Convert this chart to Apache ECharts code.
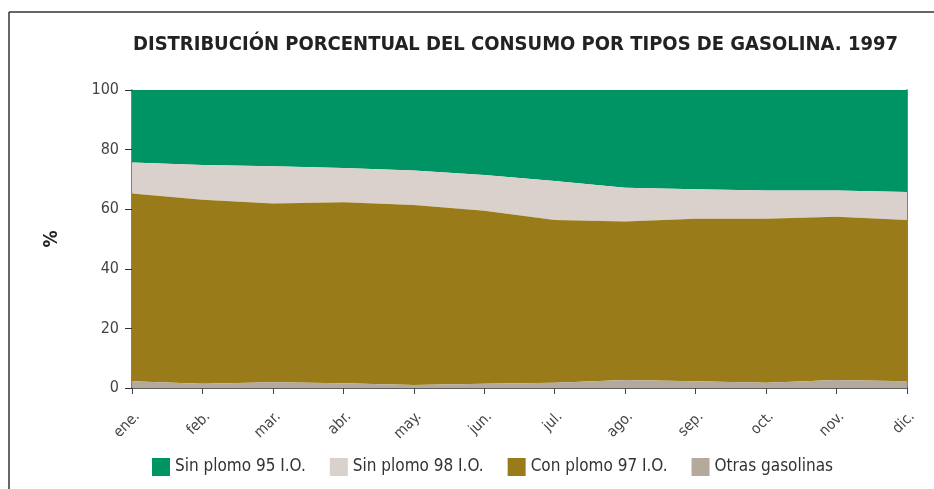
<!DOCTYPE html>
<html>
<head>
<meta charset="utf-8">
<script src="https://cdn.jsdelivr.net/npm/echarts@6/dist/echarts.min.js"></script>
<style>
html,body{margin:0;padding:0;background:#fff;}
#c{width:934px;height:489px;}
</style>
</head>
<body>
<div id="c"></div>
<script>
var months = ['ene.','feb.','mar.','abr.','may.','jun.','jul.','ago.','sep.','oct.','nov.','dic.'];
var seriesNames = ['Sin plomo 95 I.O.','Sin plomo 98 I.O.','Con plomo 97 I.O.','Otras gasolinas'];
var otras = [2.3,1.4,1.9,1.6,1.0,1.4,1.8,2.7,2.3,1.8,2.7,2.3];
var conPlomo97 = [63.0,61.8,60.0,60.7,60.4,58.1,54.6,53.2,54.5,55.0,54.8,54.1];
var sinPlomo98 = [10.4,11.6,12.5,11.5,11.6,12.0,13.1,11.3,9.9,9.5,8.8,9.4];
var sinPlomo95 = [24.3,25.2,25.6,26.2,27.0,28.5,30.5,32.8,33.3,33.7,33.7,34.2];
var yTicks = [0,20,40,60,80,100];

var FONT = "'Liberation Sans Narrow','DejaVu Sans Condensed','Arial Narrow',sans-serif";
var colors = ['#009364','#dad0cc','#997c19','#b3aa9c'];

var chart = echarts.init(document.getElementById('c'), null, {renderer:'canvas'});

function areaSeries(name, data, color, z){
  return {
    name: name, type:'line', stack:'total', data:data,
    symbol:'none', showSymbol:false,
    lineStyle:{width:0}, areaStyle:{color:color, opacity:1},
    itemStyle:{color:color}, z:z
  };
}

chart.setOption({
  animation:false,
  textStyle:{fontFamily:FONT},
  title:{
    text:'DISTRIBUCIÓN PORCENTUAL DEL CONSUMO POR TIPOS DE GASOLINA. 1997',
    left:133, top:35, padding:0,
    textStyle:{fontFamily:FONT, fontWeight:'bold', fontSize:20, color:'#222'}
  },
  legend:{
    data:seriesNames,
    bottom:13, left:152, padding:0,
    itemWidth:18, itemHeight:18, itemGap:24,
    icon:'rect',
    textStyle:{fontFamily:FONT, fontSize:17, color:'#333'}
  },
  grid:{left:132, right:27, top:90, bottom:101, containLabel:false},
  xAxis:[{
    type:'category', data:months, boundaryGap:false,
    axisLine:{show:true, lineStyle:{color:'#555', width:1.5}},
    axisTick:{show:true, length:6, lineStyle:{color:'#444'}},
    axisLabel:{rotate:45, fontSize:15, color:'#444', margin:21, verticalAlign:'top', fontFamily:FONT}
  },{
    type:'category', data:months, boundaryGap:false, position:'top',
    axisLine:{show:true, lineStyle:{color:'#555', width:1.5}},
    axisTick:{show:false}, axisLabel:{show:false}
  }],
  yAxis:[{
    type:'value', min:0, max:100, interval:20,
    name:'%', nameLocation:'middle', nameGap:70,
    nameTextStyle:{fontFamily:FONT, fontWeight:'bold', fontSize:19, color:'#222'},
    axisLine:{show:true, lineStyle:{color:'#555', width:1.5}},
    axisTick:{show:true, length:7, lineStyle:{color:'#333'}},
    axisLabel:{fontSize:16, color:'#444', margin:13, fontFamily:FONT,
      formatter:function(v){return yTicks.indexOf(v)>=0 ? String(v) : '';}},
    splitLine:{show:false}
  },{
    type:'value', min:0, max:100, interval:20, position:'right',
    axisLine:{show:true, lineStyle:{color:'#555', width:1.5}},
    axisTick:{show:false}, axisLabel:{show:false}, splitLine:{show:false}
  }],
  series:[
    areaSeries(seriesNames[3], otras, colors[3], 4),
    areaSeries(seriesNames[2], conPlomo97, colors[2], 3),
    areaSeries(seriesNames[1], sinPlomo98, colors[1], 2),
    areaSeries(seriesNames[0], sinPlomo95, colors[0], 1)
  ],
  graphic:[
    {type:'line', shape:{x1:9, y1:12, x2:934, y2:12}, style:{stroke:'#333', lineWidth:1.5}, silent:true},
    {type:'line', shape:{x1:9, y1:12, x2:9, y2:489}, style:{stroke:'#333', lineWidth:1.5}, silent:true}
  ]
});
</script>
</body>
</html>
